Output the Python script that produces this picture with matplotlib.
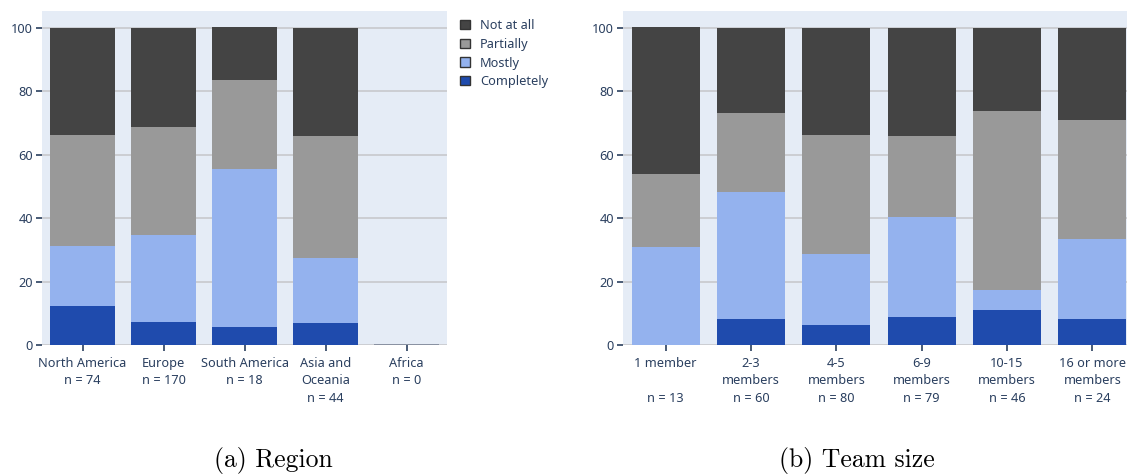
import matplotlib
matplotlib.use("Agg")
import matplotlib.pyplot as plt
from matplotlib.patches import Patch
import numpy as np

# ---- data (percent of respondents) ----
levels = ["Completely", "Mostly", "Partially", "Not at all"]
colors = {"Completely": "#1f4bad", "Mostly": "#94b2ee",
          "Partially": "#999999", "Not at all": "#444444"}

region_labels = ["North America\nn = 74", "Europe\nn = 170", "South America\nn = 18",
                 "Asia and\nOceania\nn = 44", "Africa\nn = 0"]
region_completely = [12.2, 7.1, 5.6, 6.8, 0.0]
region_mostly = [18.9, 27.6, 50.0, 20.5, 0.0]
region_partially = [35.1, 34.1, 27.8, 38.6, 0.0]
region_not_at_all = [33.8, 31.2, 16.7, 34.1, 0.0]

team_labels = ["1 member\n\nn = 13", "2-3\nmembers\nn = 60", "4-5\nmembers\nn = 80",
               "6-9\nmembers\nn = 79", "10-15\nmembers\nn = 46", "16 or more\nmembers\nn = 24"]
team_completely = [0.0, 8.3, 6.2, 8.9, 10.9, 8.3]
team_mostly = [30.8, 40.0, 22.5, 31.6, 6.5, 25.0]
team_partially = [23.1, 25.0, 37.5, 25.3, 56.5, 37.5]
team_not_at_all = [46.2, 26.7, 33.8, 34.2, 26.1, 29.2]

yticks = [0, 20, 40, 60, 80, 100]

TXT = "#2a3f5f"
BG = "#e5ecf6"
GRID = "#c8c9cc"
FONT = ["Noto Sans", "DejaVu Sans"]

W, H = 1127, 474
fig = plt.figure(figsize=(W / 100, H / 100), dpi=100)


def draw(ax, labels, series):
    x = np.arange(len(labels))
    bottom = np.zeros(len(labels))
    for name, vals in zip(levels, series):
        vals = np.asarray(vals, dtype=float)
        ax.bar(x, vals, width=0.8, bottom=bottom, color=colors[name],
               linewidth=0, zorder=3)
        bottom += vals
    # zero-height bars shown as a thin outline line
    zero = bottom == 0
    if zero.any():
        ax.bar(x[zero], np.zeros(zero.sum()), width=0.8, color="none",
               edgecolor="#7d8799", linewidth=1.2, zorder=4)
    ax.set_facecolor(BG)
    ax.set_xlim(-0.5, len(labels) - 0.5)
    ax.set_ylim(0, 105.3)
    ax.set_yticks(yticks)
    ax.set_xticks(x)
    ax.set_xticklabels(labels, linespacing=1.45)
    ax.grid(axis="y", color=GRID, linewidth=1.2, zorder=1)
    ax.set_axisbelow(True)
    for s in ax.spines.values():
        s.set_visible(False)
    ax.tick_params(axis="both", colors=TXT, labelcolor=TXT, length=4.5, width=1.2,
                   labelsize=9.2, pad=2)
    ax.tick_params(axis="x", pad=4)
    for t in ax.get_xticklabels() + ax.get_yticklabels():
        t.set_fontfamily(FONT)
        t.set_fontweight("semibold")


axL = fig.add_axes([42 / W, 1 - 345 / H, 405 / W, 334 / H])
draw(axL, region_labels,
     [region_completely, region_mostly, region_partially, region_not_at_all])

axR = fig.add_axes([623 / W, 1 - 345 / H, 512 / W, 334 / H])
draw(axR, team_labels,
     [team_completely, team_mostly, team_partially, team_not_at_all])

handles = [Patch(facecolor=colors[n], edgecolor="#333333", linewidth=1.0, label=n)
           for n in reversed(levels)]
leg = fig.legend(handles=handles, loc="upper left",
                 bbox_to_anchor=(460 / W, 1 - 19 / H), frameon=False,
                 handlelength=0.75, handleheight=0.75, handletextpad=0.8,
                 labelspacing=0.45, borderpad=0, borderaxespad=0,
                 prop={"family": FONT, "size": 9.2, "weight": "semibold"})
for t in leg.get_texts():
    t.set_color(TXT)

fig.text(273 / W, 1 - 461 / H, "(a) Region", ha="center", va="center",
         fontfamily="cmr10", fontsize=18.5)
fig.text(857 / W, 1 - 461 / H, "(b) Team size", ha="center", va="center",
         fontfamily="cmr10", fontsize=18.5)

fig.savefig("out.png", dpi=100)
